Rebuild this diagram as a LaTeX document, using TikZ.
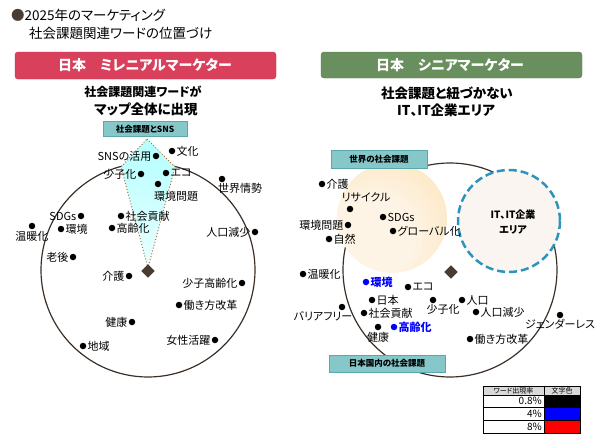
\documentclass[tikz,border=0pt]{standalone}
\usepackage{fontspec}
\setmainfont[RawFeature=+palt]{Noto Sans CJK JP}
\usepackage{tikz}
\usetikzlibrary{shapes.geometric}
\definecolor{redbar}{HTML}{D9405C}
\definecolor{greenbar}{HTML}{6A8F5E}
\definecolor{tealbox}{HTML}{86C7CA}
\definecolor{tealline}{HTML}{5AA8AC}
\definecolor{darkbrown}{HTML}{4A3C32}
\definecolor{kiteline}{HTML}{B0703A}
\definecolor{itblue}{HTML}{2C94BC}
\definecolor{yelpale}{HTML}{FEF4E6}
\definecolor{yeldeep}{HTML}{F8D38A}
\pgfdeclareradialshading{sunball}{\pgfpoint{-12bp}{-12bp}}{color(0bp)=(yelpale); color(18bp)=(yelpale); color(64bp)=(yeldeep)}

\begin{document}
\begin{tikzpicture}[x=1pt,y=-1pt,
  wd/.style={circle,fill=black,inner sep=0pt,minimum size=6.5pt},
  lb/.style={font=\fontsize{11}{13}\selectfont,inner sep=1pt},
  bl/.style={font=\fontsize{11}{13}\selectfont\bfseries,text=blue,inner sep=1pt},
  tagbox/.style={draw=tealline,fill=tealbox,font=\fontsize{8.5}{10}\selectfont\bfseries},
  centre/.style={diamond,fill=darkbrown,draw=darkbrown!70!black,inner sep=0pt,minimum size=13pt}]
\useasboundingbox (0,0) rectangle (600,439);

\node[anchor=west,font=\fontsize{13.5}{16}\selectfont,inner sep=0pt] (ttla) at (11,15) {\textcolor{darkbrown}{●}2025年のマーケティング};
\node[anchor=west,font=\fontsize{13.5}{16}\selectfont,inner sep=0pt] (ttlb) at (29,33) {社会課題関連ワードの位置づけ};

\draw[fill=redbar,draw=redbar!85!black,rounded corners=3pt] (15,52) rectangle (276,79);
\node[text=white,font=\fontsize{14}{16}\selectfont\bfseries] (hdl) at (145,65.5) {日本　ミレニアルマーケター};
\draw[fill=greenbar,draw=greenbar!85!black,rounded corners=3pt] (321,52) rectangle (582,78);
\node[text=white,font=\fontsize{14}{16}\selectfont\bfseries] (hdr) at (450,65) {日本　シニアマーケター};

\node[font=\fontsize{12}{14}\selectfont\bfseries] (subla) at (143,91.5) {社会課題関連ワードが};
\node[font=\fontsize{13.5}{16}\selectfont\bfseries] (sublb) at (146,109) {マップ全体に出現};
\node[font=\fontsize{13.5}{16}\selectfont\bfseries] (subra) at (447,93) {社会課題と紐づかない};
\node[font=\fontsize{13.5}{16}\selectfont\bfseries] (subrb) at (446,110) {IT、IT企業エリア};

\draw[color=darkbrown!80!black,line width=1.2pt] (148,270) circle (107);
\draw[color=darkbrown!80!black,line width=1.2pt] (450,270) circle (107);
\shade[shading=sunball] (392,218) circle (55);
\draw[fill=brown!8!white,draw=itblue,line width=2.5pt,dash pattern=on 8pt off 4pt] (509,221) circle (51);
\node[align=center,font=\fontsize{10}{15}\selectfont\bfseries] (itarea) at (513,222) {IT、IT企業\\エリア};

\shade[top color=cyan!30!white,bottom color=cyan!8!white] (147,139) -- (175,167) -- (148,268) -- (121,167) -- cycle;
\draw[color=kiteline,dotted,line width=1pt] (147,139) -- (175,167) -- (148,268) -- (121,167) -- cycle;

\node[tagbox,minimum width=84pt,minimum height=14pt] (tagsns) at (145,129) {社会課題とSNS};
\node[tagbox,minimum width=96pt,minimum height=18pt] (tagworld) at (379,159) {世界の社会課題};
\node[tagbox,minimum width=116pt,minimum height=17pt] (tagjapan) at (387,363.5) {日本国内の社会課題};

\node[centre] (cl) at (148,271) {};
\node[centre] (cr) at (451,272) {};

\node[wd,label={[lb]left:SNSの活用}] (sns) at (156,156) {};
\node[wd,label={[lb]right:文化}] (bunka) at (172,151) {};
\node[wd,label={[lb]left:少子化}] (shoshi) at (141,174) {};
\node[wd,label={[lb]right:エコ}] (eco) at (166,173) {};
\node[wd,label={[lb,xshift=18pt,label distance=3pt]below:環境問題}] (kmondai) at (158,184) {};
\node[wd,label={[lb,xshift=18pt]below:世界情勢}] (sekai) at (222,179) {};
\node[wd,label={[lb]left:SDGs}] (sdgs) at (81,216) {};
\node[wd,label={[lb]right:社会貢献}] (koken) at (121,216) {};
\node[wd,label={[lb,label distance=1pt]below:温暖化}] (ondan) at (32,226) {};
\node[wd,label={[lb]right:環境}] (kankyo) at (61,229) {};
\node[wd,label={[lb]right:高齢化}] (korei) at (112,228) {};
\node[wd,label={[lb]left:人口減少}] (jgensho) at (255,232) {};
\node[wd,label={[lb]left:老後}] (rogo) at (73,257) {};
\node[wd,label={[lb]left:介護}] (kaigo) at (129,276) {};
\node[wd,label={[lb]left:少子高齢化}] (skorei) at (242,283) {};
\node[wd,label={[lb]right:働き方改革}] (hataraki) at (179,305) {};
\node[wd,label={[lb]left:健康}] (kenko) at (132,322) {};
\node[wd,label={[lb]right:地域}] (chiiki) at (83,346) {};
\node[wd,label={[lb]left:女性活躍}] (josei) at (215,340) {};

\node[wd,label={[lb]right:介護}] (rkaigo) at (322,184) {};
\node[wd,label={[lb,xshift=16pt,label distance=2pt]above:リサイクル}] (recycle) at (350,209) {};
\node[wd,label={[lb]right:SDGs}] (rsdgs) at (383,217) {};
\node[wd,label={[lb]left:環境問題}] (rkmondai) at (348,225) {};
\node[wd,label={[lb]right:グローバル化}] (global) at (393,231) {};
\node[wd,label={[lb]right:自然}] (shizen) at (329,239) {};
\node[wd,label={[lb]right:温暖化}] (rondan) at (303,274) {};
\node[wd,fill=blue,label={[bl]right:環境}] (rkankyo) at (366,282) {};
\node[wd,label={[lb]right:エコ}] (reco) at (408,287) {};
\node[wd,label={[lb]right:日本}] (nihon) at (372,300) {};
\node[wd,label={[lb,xshift=10pt]below:少子化}] (rshoshi) at (433,300) {};
\node[wd,label={[lb]right:人口}] (jinko) at (462,300) {};
\node[wd,label={[lb]right:人口減少}] (rjgensho) at (476,312) {};
\node[wd,label={[lb,xshift=-19pt]below:バリアフリー}] (barrier) at (342,307) {};
\node[wd,label={[lb]right:社会貢献}] (rkoken) at (364,313) {};
\node[wd,label={[lb,label distance=1pt]below:健康}] (rkenko) at (378,327) {};
\node[wd,fill=blue,label={[bl]right:高齢化}] (rkorei) at (394,327) {};
\node[wd,label={[lb]below:ジェンダーレス}] (gender) at (560,315) {};
\node[wd,label={[lb]right:働き方改革}] (rhataraki) at (470,339) {};

\draw[fill=gray!30] (483,386) rectangle (544,395);
\draw[fill=gray!30] (544,386) rectangle (580,395);
\draw (483,395) rectangle (544,407);
\draw[fill=black] (544,395) rectangle (580,407);
\draw (483,407) rectangle (544,420);
\draw[fill=blue] (544,407) rectangle (580,420);
\draw (483,420) rectangle (544,433);
\draw[fill=red] (544,420) rectangle (580,433);
\node[font=\fontsize{7}{8}\selectfont,inner sep=0pt] (lghead) at (513.5,390.5) {ワード出現率};
\node[font=\fontsize{7}{8}\selectfont,inner sep=0pt] (lgcolor) at (562,390.5) {文字色};
\node[anchor=east,font=\fontsize{10}{11}\selectfont,inner sep=0pt] (lga) at (542,401) {0.8\%};
\node[anchor=east,font=\fontsize{10}{11}\selectfont,inner sep=0pt] (lgb) at (542,413.5) {4\%};
\node[anchor=east,font=\fontsize{10}{11}\selectfont,inner sep=0pt] (lgc) at (542,426.5) {8\%};
\end{tikzpicture}
\end{document}
